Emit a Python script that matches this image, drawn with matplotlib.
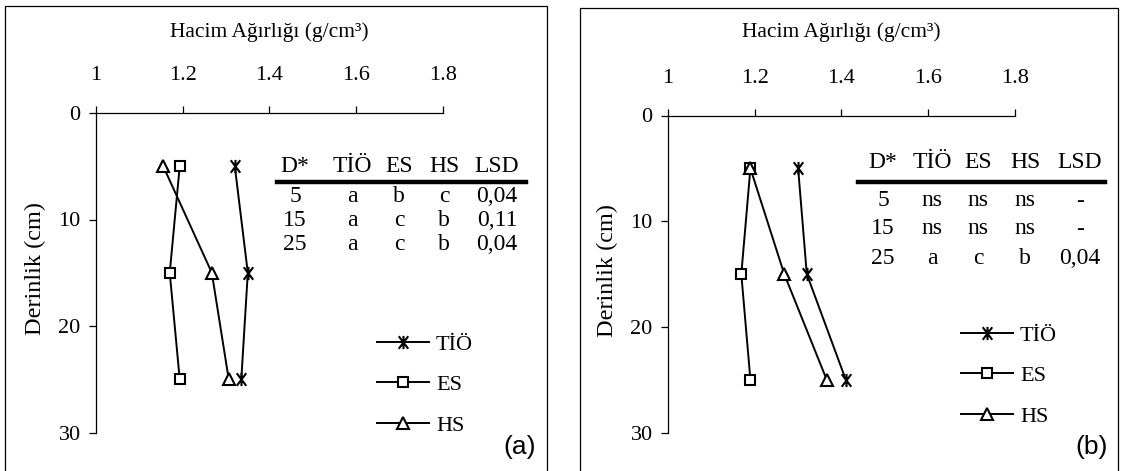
import matplotlib
matplotlib.use("Agg")
import matplotlib.pyplot as plt
from matplotlib.path import Path
from matplotlib.lines import Line2D
from matplotlib.patches import Rectangle

# ---------------- data ----------------
depths = [5, 15, 25]
series_names = ["TİÖ", "ES", "HS"]
a_tio = [1.32, 1.35, 1.335]
a_es = [1.193, 1.17, 1.193]
a_hs = [1.155, 1.267, 1.306]
b_tio = [1.30, 1.32, 1.41]
b_es = [1.19, 1.169, 1.19]
b_hs = [1.19, 1.268, 1.366]
x_ticks = [1, 1.2, 1.4, 1.6, 1.8]
x_ticklabels = ["1", "1.2", "1.4", "1.6", "1.8"]
y_ticks = [0, 10, 20, 30]
table_header = ["D*", "TİÖ", "ES", "HS", "LSD"]
table_a = [["5", "a", "b", "c", "0,04"],
           ["15", "a", "c", "b", "0,11"],
           ["25", "a", "c", "b", "0,04"]]
table_b = [["5", "ns", "ns", "ns", "-"],
           ["15", "ns", "ns", "ns", "-"],
           ["25", "a", "c", "b", "0,04"]]
panel_labels = ["(a)", "(b)"]
x_title = "Hacim Ağırlığı (g/cm³)"
y_title = "Derinlik (cm)"

W, H = 1121, 471
SERIF = "Liberation Serif"
fig = plt.figure(figsize=(W / 100, H / 100), dpi=100)

def fx(px):
    return px / W

def fy(py):
    return 1 - py / H

star = Path([(0, -1), (0, 1), (-0.72, -0.95), (0.72, 0.95), (-0.72, 0.95), (0.72, -0.95)],
            [Path.MOVETO, Path.LINETO] * 3)

lw = 1.4
styles = {
    "TİÖ": dict(marker=star, markersize=9.5, markeredgewidth=1.5, markerfacecolor="none"),
    "ES": dict(marker="s", markersize=7.5, markeredgewidth=1.5, markerfacecolor="white"),
    "HS": dict(marker="^", markersize=8.5, markeredgewidth=1.5, markerfacecolor="white"),
}

def make_panel(ax_px, data, table, table_cfg, legend_cfg, label_cfg, label_txt, frame_px, ylab_x):
    left, top, right, bottom = ax_px
    ax = fig.add_axes([fx(left), fy(bottom), fx(right - left), fy(top) - fy(bottom)])
    ax.set_xlim(1, 1.8)
    ax.set_ylim(30, 0)
    for s in ["right", "bottom"]:
        ax.spines[s].set_visible(False)
    for s in ["top", "left"]:
        ax.spines[s].set_linewidth(0.9)
    ax.xaxis.tick_top()
    ax.set_xticks(x_ticks)
    ax.set_xticklabels(x_ticklabels)
    ax.set_yticks(y_ticks)
    ax.tick_params(axis="x", direction="out", length=5, width=0.9, pad=15,
                   labelsize=16)
    ax.tick_params(axis="y", direction="out", length=5, width=0.9, pad=6,
                   labelsize=16)
    for t in ax.get_xticklabels() + ax.get_yticklabels():
        t.set_fontfamily(SERIF)
    ax.patch.set_visible(False)
    handles = []
    for name, vals in zip(series_names, data):
        st = styles[name]
        if name == "TİÖ":
            ax.plot(vals, depths, linestyle="none", color="white",
                    marker=star, markersize=9.5, markeredgewidth=6, zorder=3)
        h, = ax.plot(vals, depths, color="black", linewidth=lw, zorder=4,
                     clip_on=False, **st)
        handles.append(h)
    # title and y-label
    fig.text(fx((left + right) / 2), fy(32), x_title, ha="center", va="center",
             fontsize=15.5, family=SERIF)
    fig.text(fx(ylab_x), fy((top + bottom) / 2 - 4), y_title, ha="center", va="center",
             rotation=90, fontsize=17.5, family=SERIF)
    # table
    col_x, header_y, line_y, line_x0, line_x1, row_y = table_cfg
    for cx, txt in zip(col_x, table_header):
        fig.text(fx(cx), fy(header_y), txt, ha="center", va="center",
                 fontsize=17, family=SERIF)
    fig.add_artist(Line2D([fx(line_x0), fx(line_x1)], [fy(line_y), fy(line_y)],
                          color="black", linewidth=3.2))
    for ry, row in zip(row_y, table):
        for cx, txt in zip(col_x, row):
            fig.text(fx(cx), fy(ry), txt, ha="center", va="center",
                     fontsize=17, family=SERIF)
    # legend
    lx, ly = legend_cfg
    fig.legend(handles, series_names, loc="upper left",
               bbox_to_anchor=(fx(lx), fy(ly)), frameon=False,
               handlelength=2.35, handletextpad=0.3, labelspacing=0.9,
               numpoints=1, borderpad=0, borderaxespad=0,
               prop={"family": SERIF, "size": 16})
    # panel label
    px_, py_ = label_cfg
    fig.text(fx(px_), fy(py_), label_txt, ha="center", va="center",
             fontsize=19, family="Liberation Sans")
    # frame
    x0, y0, x1 = frame_px
    fig.add_artist(Rectangle((fx(x0), -0.01), fx(x1 - x0), fy(y0) + 0.01,
                             fill=False, edgecolor="black", linewidth=0.9))
    return ax

make_panel((96, 113, 443, 432.5), [a_tio, a_es, a_hs], table_a,
           ([295, 352, 399, 444, 497], 167, 181.5, 277, 526, [196, 220, 245]),
           (377, 334), (520, 447), panel_labels[0], (5, 6, 547), 35)
make_panel((668, 115.5, 1015, 432.7), [b_tio, b_es, b_hs], table_b,
           ([883, 932, 978, 1025, 1080], 163, 181.5, 858, 1105, [201, 229, 258]),
           (961, 325), (1092, 447), panel_labels[1], (580, 8, 1118), 607)

fig.savefig("out.png", dpi=100)
